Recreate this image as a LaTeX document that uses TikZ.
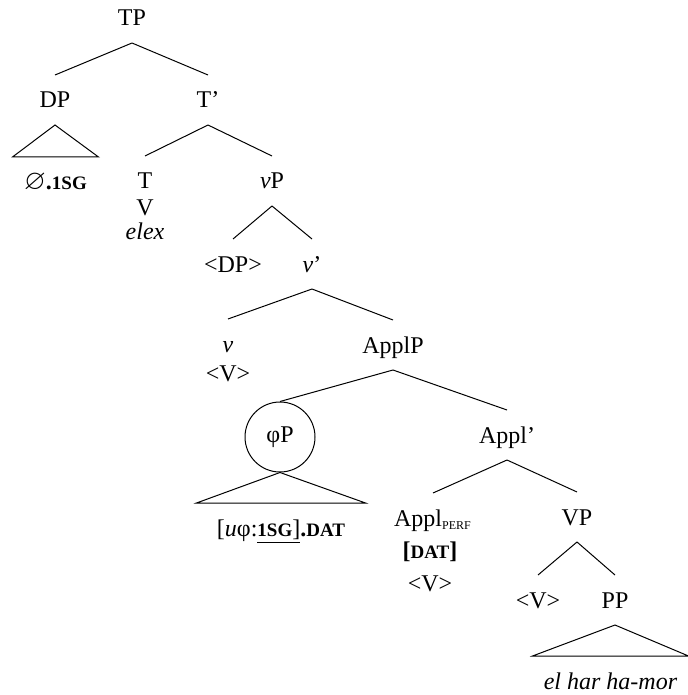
\documentclass[tikz,border=0pt]{standalone}
\usepackage{amssymb}
\usepackage{fontspec}
\setmainfont{Liberation Serif}
\usepackage{tikz}

% small capitals by hand, the font has none
\newcommand{\feat}[1]{{\fontsize{9.5}{11}\selectfont #1}}
\newcommand{\subfeat}[1]{{\fontsize{6}{7}\selectfont #1}}

\begin{document}
\begin{tikzpicture}[x=0.5pt, y=-0.5pt, line width=0.5pt,
    cat/.style={inner sep=0pt, outer ysep=8.5pt, text height=8pt, text depth=0pt},
    leaf/.style={cat, minimum width=#1},
    phi node/.style={circle, draw, inner sep=0pt, minimum size=35pt},
    ]
  \fontsize{12}{14}\selectfont
  \useasboundingbox (0,0) rectangle (688,695);

  \node[cat] (TP) at (132,18) {TP};
  \node[cat] (DP) at (55,100) {DP};
  \node[cat] (T1) at (208,100) {T’};
  \node[leaf=42.5pt] (DP-leaf) at (55.5,182)
    {{\fontsize{14}{14}\selectfont$\varnothing$}\textbf{.\feat{1SG}}};

  \node[cat] (T) at (145,181) {T};
  \path (T) ++(0,26) node[cat] (T-V) {V};
  \path (T-V) ++(0,25) node[cat] (T-elex) {\textit{elex}};
  \node[cat] (vP) at (272,181) {\textit{v}P};

  \node[cat] (DP-copy) at (233,264) {<DP>};
  \node[cat] (v1) at (312,264) {\textit{v}’};

  \node[cat] (v) at (228,344) {\textit{v}};
  \path (v) ++(0,29) node[cat] (v-V) {<V>};
  \node[cat] (ApplP) at (393,345) {ApplP};

  \node[phi node] (phiP) at (280,437) {φP};
  \node[leaf=84pt] (phi-leaf) at (281,528)
    {[\textit{u}φ:\underline{\textbf{\feat{1SG}}]}\textbf{.\feat{DAT}}};
  \node[cat] (Appl1) at (507,435) {Appl’};

  \node[cat] (Appl) at (433,518) {Appl\textsubscript{\subfeat{PERF}}};
  \path (Appl) ++(-3,32) node[cat] (Appl-dat) {\textbf{[\feat{DAT}]}};
  \path (Appl-dat) ++(0,33) node[cat] (Appl-V) {<V>};
  \node[cat] (VP) at (577,517) {VP};

  \node[cat] (V-copy) at (538,600) {<V>};
  \node[cat] (PP) at (615,600) {PP};
  \node[leaf=77.5pt] (PP-leaf) at (610.5,681) {\textit{el har ha-mor}};

  \draw (TP.south) -- (DP.north);
  \draw (TP.south) -- (T1.north);
  \draw (DP.south) -- (DP-leaf.north west) -- (DP-leaf.north east) -- cycle;
  \draw (T1.south) -- (T.north);
  \draw (T1.south) -- (vP.north);
  \draw (vP.south) -- (DP-copy.north);
  \draw (vP.south) -- (v1.north);
  \draw (v1.south) -- (v.north);
  \draw (v1.south) -- (ApplP.north);
  \draw (ApplP.south) -- (phiP.north);
  \draw (ApplP.south) -- (Appl1.north);
  \draw (phiP.south) -- (phi-leaf.north west) -- (phi-leaf.north east) -- cycle;
  \draw (Appl1.south) -- (Appl.north);
  \draw (Appl1.south) -- (VP.north);
  \draw (VP.south) -- (V-copy.north);
  \draw (VP.south) -- (PP.north);
  \draw (PP.south) -- (PP-leaf.north west) -- (PP-leaf.north east) -- cycle;
\end{tikzpicture}
\end{document}
